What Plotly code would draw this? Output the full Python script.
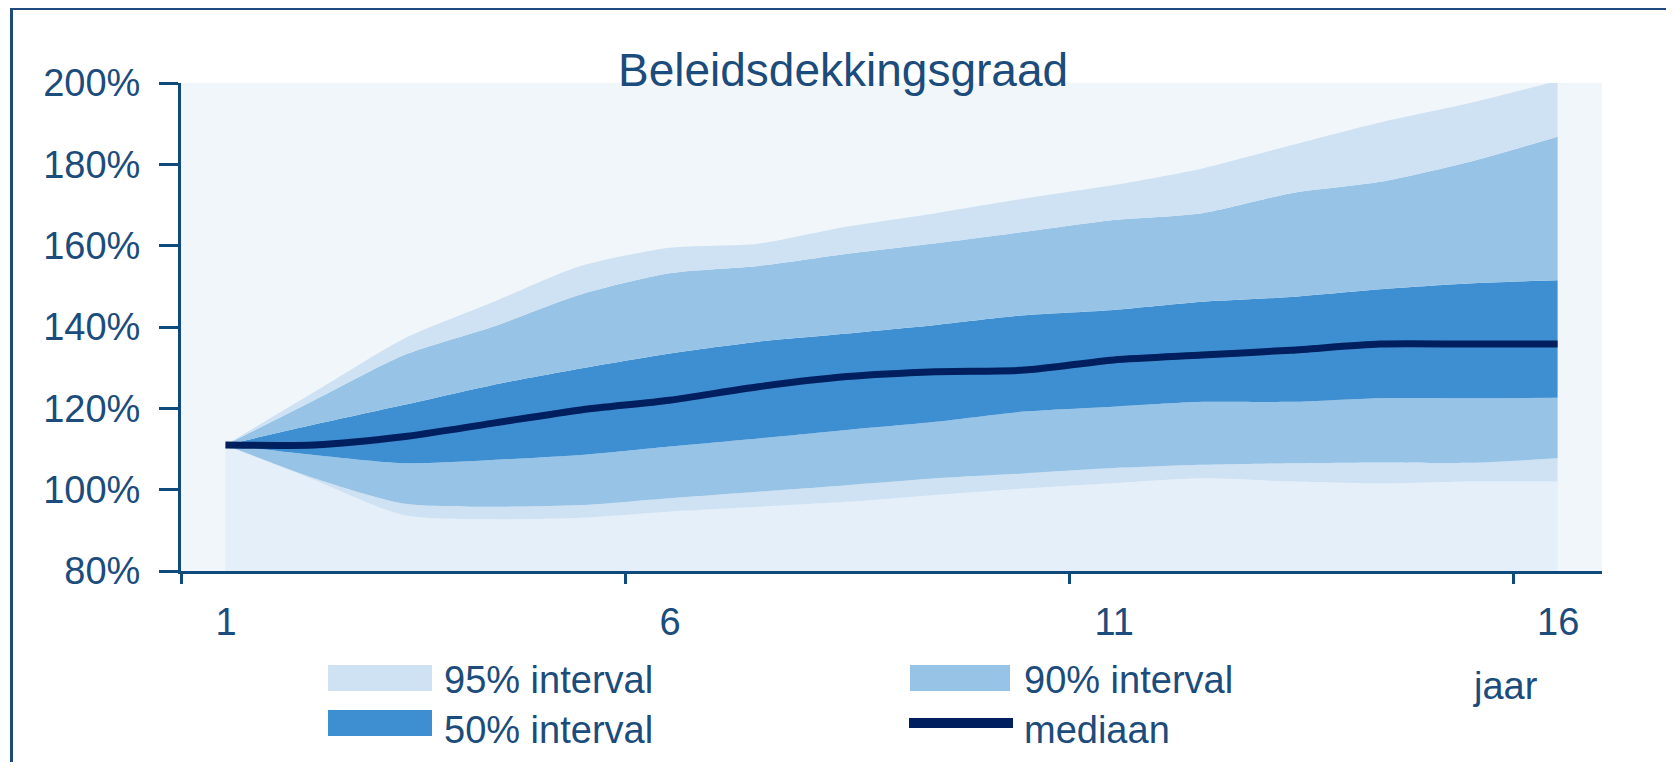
import plotly.graph_objects as go

years = list(range(1, 17))
p95_hi = [111, 124, 137, 146, 155, 159.5, 160.5, 164.7, 168, 171.6, 174.9, 179, 184.7, 190.3, 195, 200.5]
p90_hi = [111, 122, 133, 140, 148, 153.2, 155, 158, 160.6, 163.4, 166.3, 168, 172.9, 175.7, 180.6, 186.8]
p50_hi = [111, 116, 120.8, 125.7, 129.8, 133.5, 136.4, 138.4, 140.5, 142.9, 144.2, 146.2, 147.4, 149.3, 150.7, 151.5]
median = [111, 111, 113, 116.3, 119.6, 122, 125.3, 127.8, 129, 129.4, 131.9, 133.1, 134.3, 135.8, 135.8, 135.8]
p50_lo = [111, 108.5, 106.5, 107.3, 108.5, 110.6, 112.6, 114.7, 116.7, 119.2, 120.4, 121.6, 121.6, 122.5, 122.5, 122.6]
p90_lo = [111, 102.8, 96.6, 95.8, 96.2, 97.9, 99.5, 101.1, 102.8, 104, 105.3, 106.1, 106.5, 106.7, 106.6, 107.7]
p95_lo = [111, 102.4, 93.8, 92.7, 93.1, 94.6, 95.8, 97, 98.7, 100.3, 101.6, 102.8, 102, 101.5, 102, 102]
floor_val = [80] * len(years)

y_ticks = [80, 100, 120, 140, 160, 180, 200]
y_tick_text = ["80%", "100%", "120%", "140%", "160%", "180%", "200%"]
x_tick_pos = [0.5, 5.5, 10.5, 15.5]
x_tick_text = ["1", "6", "11", "16"]

legend_labels = ["95% interval", "90% interval", "50% interval", "mediaan"]

C_BG = "#F1F6FB"
C_FLOOR = "#E5EFF9"
C_95 = "#CFE2F3"
C_90 = "#97C3E6"
C_50 = "#3E8FD1"
C_MED = "#001F5F"
C_TXT = "#1B4C7C"
C_AX = "#0F4A7C"
C_FRAME = "#1F4A7E"
FONT = "Liberation Sans, Arial, sans-serif"

# page has an 8px body margin: figure origin sits at screen (8, 8)
OFF = 8
W, H = 1674 - 2 * OFF, 770 - 2 * OFF
# plot area in screen coords: x 181..1602, y 83..571
SL, SR, ST, SB = 181, 1602, 83, 571
L, T = SL - OFF, ST - OFF
PW, PH = SR - SL, SB - ST
R, B = W - L - PW, H - T - PH


def px(x):
    return (x - SL) / PW


def py(y):
    return (SB - y) / PH


fig = go.Figure()
sm = 0.7
layers = [
    (floor_val, None),
    (p95_lo, C_FLOOR),
    (p90_lo, C_95),
    (p50_lo, C_90),
    (p50_hi, C_50),
    (p90_hi, C_90),
    (p95_hi, C_95),
]
for vals, col in layers:
    fig.add_trace(go.Scatter(
        x=years, y=vals, mode="lines",
        line=dict(width=0, shape="spline", smoothing=sm),
        fill=None if col is None else "tonexty",
        fillcolor=col, showlegend=False, hoverinfo="skip"))

fig.add_trace(go.Scatter(
    x=years, y=median, mode="lines",
    line=dict(color=C_MED, width=7, shape="spline", smoothing=sm),
    showlegend=False))

fig.update_xaxes(
    range=[0.5, 16.5], tickmode="array", tickvals=x_tick_pos, ticktext=x_tick_text,
    ticks="outside", ticklen=10, tickwidth=3, tickcolor=C_AX,
    showline=True, linecolor=C_AX, linewidth=3, showgrid=False, zeroline=False,
    ticklabelshift=45, ticklabelstandoff=5,
    tickfont=dict(family=FONT, size=38, color=C_TXT))
fig.update_yaxes(
    range=[80, 200], tickmode="array", tickvals=y_ticks, ticktext=y_tick_text,
    ticks="outside", ticklen=19, tickwidth=3, tickcolor=C_AX,
    showline=True, linecolor=C_AX, linewidth=3, showgrid=False, zeroline=False,
    ticklabelstandoff=11,
    tickfont=dict(family=FONT, size=38, color=C_TXT))

shapes = [
    # frame (top and left edges)
    dict(type="line", xref="paper", yref="paper", x0=px(11.5), x1=px(1700), y0=py(8.5), y1=py(8.5),
         line=dict(color=C_FRAME, width=3)),
    dict(type="line", xref="paper", yref="paper", x0=px(11.5), x1=px(11.5), y0=py(7), y1=py(800),
         line=dict(color=C_FRAME, width=3)),
    # legend swatches
    dict(type="rect", xref="paper", yref="paper", x0=px(328), x1=px(432), y0=py(691), y1=py(665),
         fillcolor=C_95, line=dict(width=0)),
    dict(type="rect", xref="paper", yref="paper", x0=px(910), x1=px(1010), y0=py(691), y1=py(665),
         fillcolor=C_90, line=dict(width=0)),
    dict(type="rect", xref="paper", yref="paper", x0=px(328), x1=px(432), y0=py(736), y1=py(710),
         fillcolor=C_50, line=dict(width=0)),
    dict(type="line", xref="paper", yref="paper", x0=px(909), x1=px(1013), y0=py(723), y1=py(723),
         line=dict(color=C_MED, width=10)),
]

ann = []
leg_pos = [(442, 680), (1022, 680), (442, 730), (1022, 730)]
for lab, (lx, ly) in zip(legend_labels, leg_pos):
    ann.append(dict(text=lab, xref="paper", yref="paper", x=px(lx), y=py(ly),
                    xanchor="left", yanchor="middle", showarrow=False,
                    font=dict(family=FONT, size=38, color=C_TXT)))
ann.append(dict(text="jaar", xref="paper", yref="paper", x=px(1505), y=py(686),
                xanchor="center", yanchor="middle", showarrow=False,
                font=dict(family=FONT, size=38, color=C_TXT)))
ann.append(dict(text="Beleidsdekkingsgraad", xref="paper", yref="paper", x=px(843), y=py(70),
                xanchor="center", yanchor="middle", showarrow=False,
                font=dict(family=FONT, size=46, color=C_TXT)))

fig.update_layout(
    width=W, height=H, margin=dict(l=L, r=R, t=T, b=B),
    paper_bgcolor="white", plot_bgcolor=C_BG,
    shapes=shapes, annotations=ann, showlegend=False)

fig.write_html("out.html")
